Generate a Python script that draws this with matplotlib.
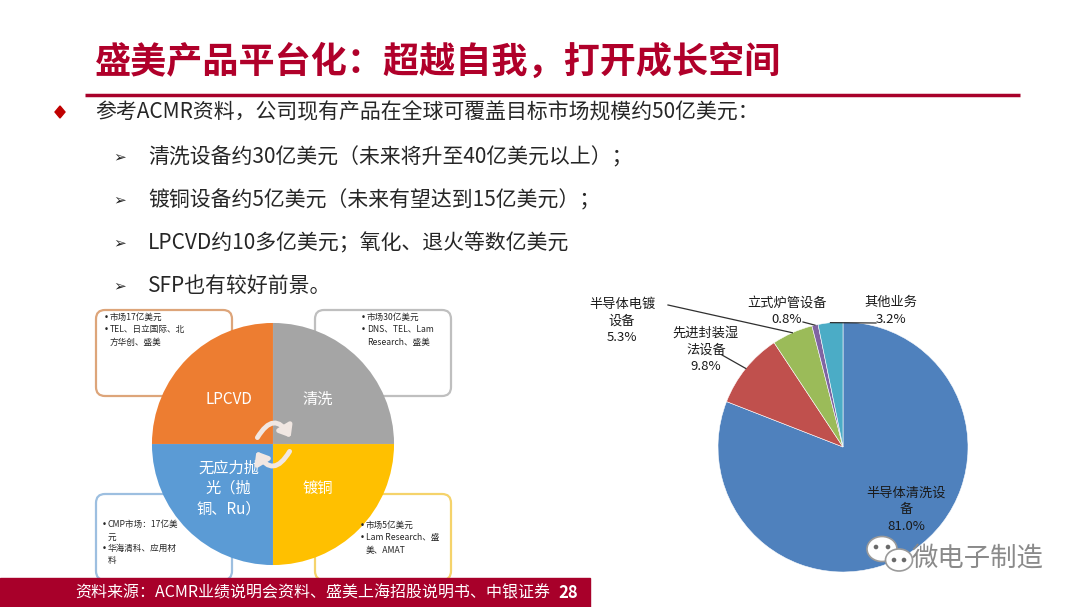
import numpy as np
import matplotlib.pyplot as plt
from matplotlib.patches import FancyBboxPatch, FancyArrowPatch, Ellipse, Polygon

plt.rcParams['font.family'] = ['Noto Sans CJK SC', 'DejaVu Sans']

# 数据
title = '盛美产品平台化：超越自我，打开成长空间'
main_point = '参考ACMR资料，公司现有产品在全球可覆盖目标市场规模约50亿美元：'
sub_points = ['清洗设备约30亿美元（未来将升至40亿美元以上）；',
              '镀铜设备约5亿美元（未来有望达到15亿美元）；',
              'LPCVD约10多亿美元；氧化、退火等数亿美元',
              'SFP也有较好前景。']

quad_names = ['清洗', 'LPCVD', '无应力抛\n光（抛\n铜、Ru）', '镀铜']
quad_sizes = [1, 1, 1, 1]
quad_notes = [['市场30亿美元', 'DNS、TEL、Lam\nResearch、盛美'],
              ['市场17亿美元', 'TEL、日立国际、北\n方华创、盛美'],
              ['CMP市场：17亿美\n元', '华海清科、应用材\n料'],
              ['市场5亿美元', 'Lam Research、盛\n美、AMAT']]

segments = ['半导体清洗设\n备', '先进封装湿\n法设备', '半导体电镀\n设备', '立式炉管设备', '其他业务']
shares = [81.0, 9.8, 5.3, 0.8, 3.2]

source = '资料来源：ACMR业绩说明会资料、盛美上海招股说明书、中银证券'
page_no = '28'

W, H = 1080, 607
def Y(y):
    return H - y

red = '#A8002A'
txt = '#262626'

fig = plt.figure(figsize=(10.8, 6.07), dpi=100)
ax = fig.add_axes([0, 0, 1, 1])

# 标题
ax.text(95, Y(62), title, fontsize=26, fontweight='bold', color='#B0002A', va='center', ha='left')
ax.plot([85, 1020], [Y(95), Y(95)], color=red, lw=2.5, solid_capstyle='butt')

# 要点
ax.add_patch(Polygon([[60, Y(106)], [65, Y(112)], [60, Y(118)], [55, Y(112)]], color='#C00000'))
ax.text(95, Y(112), main_point, fontsize=15, color=txt, va='center')
for i, s in enumerate(sub_points):
    yy = Y(157 + i * 43)
    ax.text(113, yy, '➢', fontsize=11, color=txt, va='center', family='DejaVu Sans')
    ax.text(148, yy, s, fontsize=15, color=txt, va='center')

# 四象限图：背景说明框
box_pos = [(315, 310), (96, 310), (96, 494), (315, 494)]
box_edge = ['#BFBFBF', '#DDA57A', '#9DBFE0', '#F5D36B']
for (bx, by), ec in zip(box_pos, box_edge):
    ax.add_patch(FancyBboxPatch((bx, Y(by + 86)), 136, 86,
                                boxstyle='round,pad=0,rounding_size=9',
                                fc='white', ec=ec, lw=1.6))
note_xy = [(361, 313), (104, 313), (102, 520), (360, 521)]
for (nx, ny), notes in zip(note_xy, quad_notes):
    yy = ny
    for n in notes:
        ax.text(nx, Y(yy), '•', fontsize=6.2, color=txt, va='top', family='DejaVu Sans')
        ax.text(nx + 6, Y(yy), n, fontsize=6.2, color=txt, va='top', linespacing=1.5)
        yy += 12 * (n.count('\n') + 1)

quad_colors = ['#A5A5A5', '#ED7D31', '#5B9BD5', '#FFC000']
wq, tq = ax.pie(quad_sizes, labels=quad_names, colors=quad_colors, startangle=0,
                counterclock=True, center=(273, Y(444)), radius=121,
                explode=[0.045] * 4, labeldistance=0.52, frame=True,
                wedgeprops=dict(lw=0),
                textprops=dict(color='white', fontsize=11, linespacing=1.25))
for t in tq:
    t.set_ha('center')
    t.set_va('center')

# 中心循环箭头
arr_kw = dict(arrowstyle='-|>,head_length=5,head_width=4', lw=3.5,
              color='#F1E7E2', mutation_scale=1.2, zorder=5)
ax.add_patch(FancyArrowPatch((256, Y(440)), (292, Y(440)),
                             connectionstyle='arc3,rad=-0.9', **arr_kw))
ax.add_patch(FancyArrowPatch((291, Y(449)), (255, Y(449)),
                             connectionstyle='arc3,rad=-0.9', **arr_kw))

# 收入结构饼图
pie_colors = ['#4F81BD', '#C0504D', '#9BBB59', '#8064A2', '#4BACC6']
pc = (843, Y(447))
pr = 125
wp, _ = ax.pie(shares, colors=pie_colors, startangle=90, counterclock=False,
               center=pc, radius=pr, frame=True,
               wedgeprops=dict(lw=0.4, ec='white'))

lab_xy = [(906, 510), (706, 350), (622, 321), (787, 311), (891, 311)]
for (lx, ly), name, v in zip(lab_xy, segments, shares):
    ax.text(lx, Y(ly), f'{name}\n{v:.1f}%', fontsize=9.5, color='#1A1A1A',
            ha='center', va='center', linespacing=1.35)

# 引导线
line_start = [None, (722, 355), (668, 305), (803, 322), (876, 323)]
for w, st in zip(wp, line_start):
    if st is None:
        continue
    ang = np.deg2rad((w.theta1 + w.theta2) / 2)
    ex = pc[0] + pr * np.cos(ang)
    ey = pc[1] + pr * np.sin(ang)
    ax.plot([st[0], ex], [Y(st[1]), ey], color='#303030', lw=0.9)

# 页脚
ax.add_patch(plt.Rectangle((0, 0), 590, Y(578), color=red, zorder=6))
ax.text(75, Y(593), source, fontsize=11.5, color='white', va='center', zorder=7)
ax.text(558, Y(593), page_no, fontsize=12, color='white', va='center',
        fontweight='bold', zorder=7)

# 水印
ax.add_patch(Ellipse((882, Y(549)), 30, 25, fc='white', ec='#9A9A9A', lw=1.2, zorder=6))
ax.add_patch(Ellipse((899, Y(560)), 27, 22, fc='white', ec='#9A9A9A', lw=1.2, zorder=6))
for dx, dy in [(876, 547), (888, 547), (894, 560), (904, 560)]:
    ax.add_patch(Ellipse((dx, Y(dy)), 3.2, 3.2, color='#6A6A6A', zorder=7))
ax.text(912, Y(558), '微电子制造', fontsize=19, color='#8A8A8A', va='center',
        fontweight='light', zorder=7)

ax.set_xlim(0, W)
ax.set_ylim(0, H)
ax.set_aspect('auto')
ax.axis('off')

fig.savefig('out.png', dpi=100, facecolor='white')
